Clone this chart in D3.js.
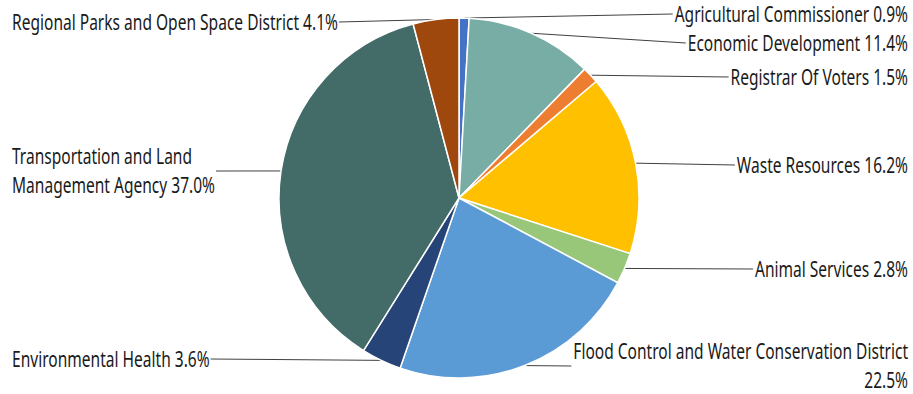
<!DOCTYPE html>
<html><head><meta charset="utf-8">
<script src="https://cdn.jsdelivr.net/npm/d3@7"></script>
<style>
body{margin:0;background:#fff;}
text{font-family:"Noto Sans","Open Sans",sans-serif;fill:#1a1a1a;}
</style></head>
<body><svg id="c" width="913" height="394"></svg>
<script>
const categories = ["Agricultural Commissioner","Economic Development","Registrar Of Voters","Waste Resources","Animal Services","Flood Control and Water Conservation District","Environmental Health","Transportation and Land Management Agency","Regional Parks and Open Space District"];
const values = [0.9, 11.4, 1.5, 16.2, 2.8, 22.5, 3.6, 37.0, 4.1];
const colors = ["#4472C4","#78ADA6","#ED7D31","#FFC000","#98C77A","#5B9BD5","#264478","#436C68","#9E480E"];
const labelLines = [
  ["Agricultural Commissioner 0.9%"],
  ["Economic Development 11.4%"],
  ["Registrar Of Voters 1.5%"],
  ["Waste Resources 16.2%"],
  ["Animal Services 2.8%"],
  ["Flood Control and Water Conservation District","22.5%"],
  ["Environmental Health 3.6%"],
  ["Transportation and Land","Management Agency 37.0%"],
  ["Regional Parks and Open Space District 4.1%"]
];
const labelSide = ["r","r","r","r","r","r","l","l","l"];
const labelY = [14, 43, 77, 165, 269, 366, 359, 171, 22];

const W=913,H=394,cx=459,cy=198,R=180;
const svg=d3.select("#c");
const g=svg.append("g").attr("transform",`translate(${cx},${cy})`);
const pie=d3.pie().sort(null).value(d=>d)(values);
const arc=d3.arc().innerRadius(0).outerRadius(R);
g.selectAll("path").data(pie).join("path")
  .attr("d",arc).attr("fill",(d,i)=>colors[i])
  .attr("stroke","#fff").attr("stroke-width",1.5);

const fs=21, lh=29.5;
const probe=svg.append("text").attr("font-size",fs).text(labelLines[8][0]);
const k=326/probe.node().getComputedTextLength();
probe.remove();

pie.forEach((d,i)=>{
  const a=(d.startAngle+d.endAngle)/2;
  const px=cx+R*Math.sin(a), py=cy-R*Math.cos(a);
  const lines=labelLines[i], n=lines.length;
  const side=labelSide[i];
  const y0=labelY[i]-(n-1)*lh/2;
  const x = side==="r"? 908 : 12;
  const grp=svg.append("g").attr("transform",`translate(${x},0) scale(${k},1)`);
  const t=grp.append("text").attr("font-size",fs)
    .attr("text-anchor", side==="r"?"end":"start");
  lines.forEach((s,j)=>{
    t.append("tspan").attr("x",0).attr("y",y0+j*lh).attr("dy","0.36em").text(s);
  });
  let ex;
  if(side==="r"){
    const w=t.select("tspan").node().getComputedTextLength()*k;
    ex=x-w-2;
  } else {
    const nodes=t.selectAll("tspan").nodes();
    const w=nodes[nodes.length-1].getComputedTextLength()*k;
    ex=x+w+1;
  }
  svg.insert("line","g").attr("x1",px).attr("y1",py).attr("x2",ex).attr("y2",labelY[i])
    .attr("stroke","#404040").attr("stroke-width",1);
});
</script></body></html>
